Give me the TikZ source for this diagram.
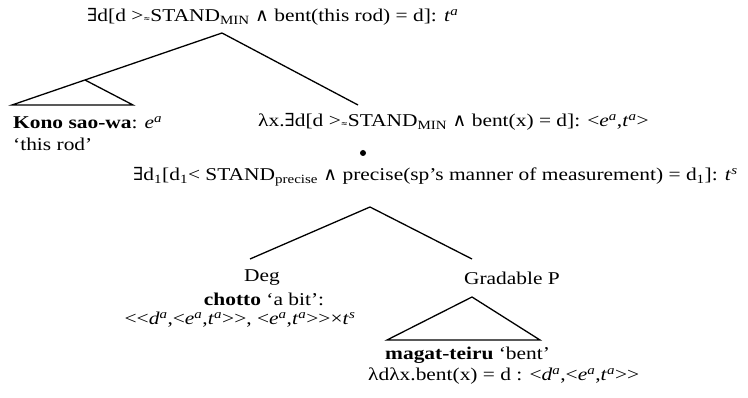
\documentclass[tikz,border=0pt]{standalone}
\usepackage{fontspec}
\setmainfont{Liberation Serif}[FakeStretch=1.19]
\newfontfamily\symfont{DejaVu Serif}[FakeStretch=1.05]
\newcommand{\exi}{{\symfont ∃}}
\newcommand{\wdg}{{\symfont ∧}}
\newcommand{\apx}{{\symfont\footnotesize ≈}}
\newcommand{\sem}[2]{\textit{#1}\textsuperscript{\textit{#2}}}
\newcommand{\sbs}[1]{\textsubscript{#1}}
\tikzset{
  lbl/.style={inner sep=0pt, font=\fontsize{18}{21}\selectfont},
  branch/.style={line width=1.3pt}
}
\begin{document}
\begin{tikzpicture}[x=1pt,y=-1pt]
\useasboundingbox (0,0) rectangle (748,398);
% top node and its two daughters
\node[lbl, anchor=west] (top) at (87,17) {\exi d[d >\apx STAND\sbs{MIN} \wdg\ bent(this rod) = d]: \sem{t}{a}};
\coordinate (topapex) at (222,33);
\coordinate (subjl) at (12,105);
\coordinate (subjm) at (85,80);
\coordinate (subjr) at (133,105);
\coordinate (predtop) at (358,105);
\draw[branch] (topapex) -- (subjl) -- (subjr) -- (subjm);
\draw[branch] (topapex) -- (predtop);
\node[lbl, anchor=west] (kono) at (13,123) {\textbf{Kono sao-wa}: \sem{e}{a}};
\node[lbl, anchor=west] (gloss) at (13,144) {‘this rod’};
\node[lbl, anchor=west] (pred) at (258,122) {λx.\exi d[d >\apx STAND\sbs{MIN} \wdg\ bent(x) = d]: <\sem{e}{a},\sem{t}{a}>};
\node[circle, fill, inner sep=0pt, minimum size=6pt] (dot) at (363,153) {};
% degree modifier
\node[lbl, anchor=west] (mod) at (133,177) {\exi d\sbs{1}[d\sbs{1}< STAND\sbs{precise} \wdg\ precise(sp’s manner of measurement) = d\sbs{1}]: \sem{t}{s}};
\coordinate (modapex) at (370,207);
\coordinate (degtop) at (250,259);
\coordinate (gptop) at (472,259);
\draw[branch] (degtop) -- (modapex) -- (gptop);
\node[lbl] (deg) at (262,278) {Deg};
\node[lbl] (gp) at (512,278) {Gradable P};
\node[lbl] (chotto) at (264,299) {\textbf{chotto} ‘a bit’:};
\node[lbl] (degtype) at (240,320) {<{}<\sem{d}{a},<\sem{e}{a},\sem{t}{a}>{}>, <\sem{e}{a},\sem{t}{a}>{}>×\sem{t}{s}};
% triangle under Gradable P
\coordinate (gpapex) at (472,297);
\coordinate (gpl) at (387,340);
\coordinate (gpr) at (540,340);
\draw[branch] (gpapex) -- (gpl) -- (gpr) -- cycle;
\node[lbl, anchor=west] (magat) at (385,355) {\textbf{magat-teiru} ‘bent’};
\node[lbl, anchor=west] (gptype) at (368,376) {λdλx.bent(x) = d : <\sem{d}{a},<\sem{e}{a},\sem{t}{a}>{}>};
\end{tikzpicture}
\end{document}
